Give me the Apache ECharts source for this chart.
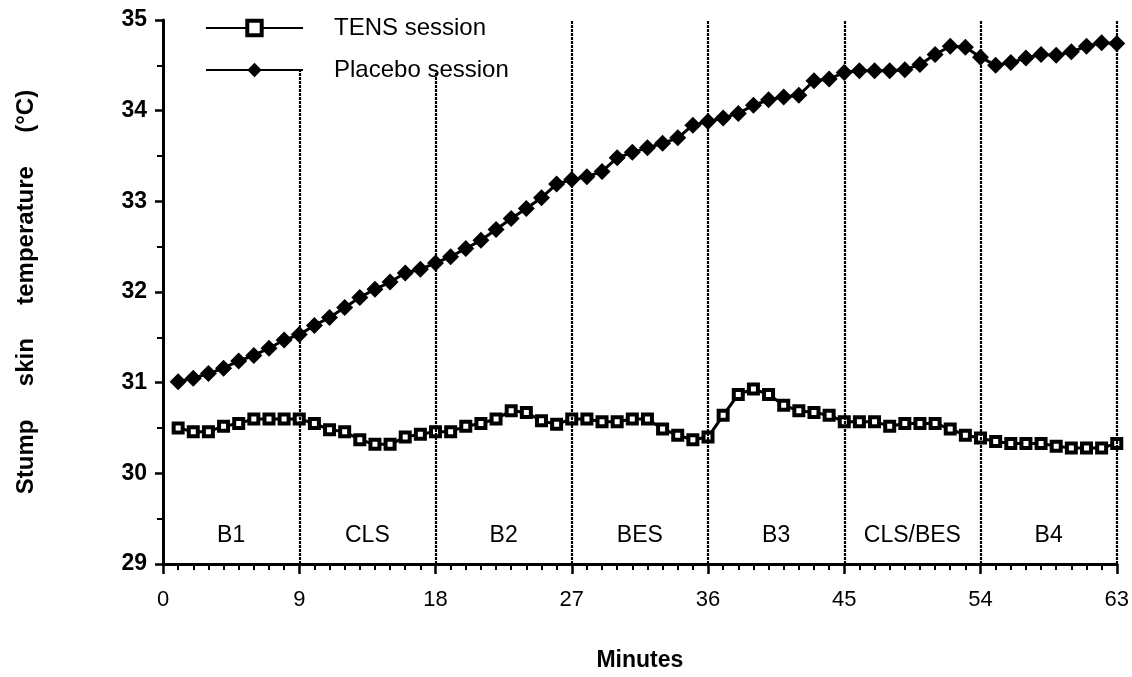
<!DOCTYPE html>
<html><head><meta charset="utf-8">
<script src="https://cdn.jsdelivr.net/npm/echarts@6/dist/echarts.min.js"></script>
<style>html,body{margin:0;padding:0;background:#fff}#c{width:1132px;height:677px}</style>
</head><body><div id="c"></div>
<script>
const minutes = [1,2,3,4,5,6,7,8,9,10,11,12,13,14,15,16,17,18,19,20,21,22,23,24,25,26,27,28,29,30,31,32,33,34,35,36,37,38,39,40,41,42,43,44,45,46,47,48,49,50,51,52,53,54,55,56,57,58,59,60,61,62,63];
const tensSession = [30.50,30.46,30.46,30.52,30.55,30.60,30.60,30.60,30.60,
  30.55,30.48,30.46,30.37,30.32,30.32,30.40,30.43,30.46,
  30.46,30.52,30.55,30.60,30.69,30.67,30.58,30.54,30.60,
  30.60,30.57,30.57,30.60,30.60,30.49,30.42,30.37,30.40,
  30.64,30.87,30.93,30.87,30.75,30.69,30.67,30.64,30.57,
  30.57,30.57,30.52,30.55,30.55,30.55,30.49,30.42,30.39,
  30.35,30.33,30.33,30.33,30.30,30.28,30.28,30.28,30.33];
const placeboSession = [31.01,31.05,31.10,31.16,31.24,31.30,31.38,31.47,31.53,
  31.63,31.72,31.83,31.94,32.03,32.11,32.21,32.25,32.32,
  32.39,32.48,32.57,32.69,32.81,32.92,33.04,33.19,33.24,
  33.27,33.33,33.48,33.54,33.59,33.64,33.70,33.84,33.88,
  33.92,33.97,34.06,34.12,34.15,34.17,34.33,34.35,34.42,
  34.44,34.44,34.44,34.45,34.51,34.62,34.71,34.70,34.59,
  34.50,34.53,34.58,34.62,34.61,34.65,34.71,34.75,34.74];
const phaseBoundaries = [9,18,27,36,45,54,63];
const boundaryTops = [34.45,34.45,35,35,35,35,35];
const phaseNames = ['B1','CLS','B2','BES','B3','CLS/BES','B4'];
const phaseCenters = [4.5,13.5,22.5,31.5,40.5,49.5,58.5];
const phaseLabelLevel = 29.31;
const seriesNames = ['TENS session','Placebo session'];
const xTicks = {min:0, max:63, interval:9};
const yTicks = {min:29, max:35, interval:1};

const FONT = '"Liberation Sans", Arial, Helvetica, sans-serif';
const chart = echarts.init(document.getElementById('c'), null, {renderer:'canvas'});

const pair = (arr) => minutes.map((m,i) => [m, arr[i]]);
const boundaryLines = phaseBoundaries.map((b,i) => [
  {coord:[b, yTicks.min]}, {coord:[b, boundaryTops[i]]}
]);
const phaseMarks = phaseNames.map((n,i) => ({name:n, coord:[phaseCenters[i], phaseLabelLevel]}));

chart.setOption({
  animation:false,
  backgroundColor:'#fff',
  grid:{left:163, right:10, top:20, bottom:103, containLabel:false},
  legend:{
    orient:'vertical', left:200, top:11, itemWidth:97, itemHeight:18, itemGap:18,
    textStyle:{fontFamily:FONT, fontSize:24, color:'#000', padding:[0,0,0,26]},
    data:[
      {name:seriesNames[0], itemStyle:{color:'#fff', borderColor:'#000', borderWidth:4}},
      {name:seriesNames[1]}
    ]
  },
  xAxis:{
    type:'value', min:xTicks.min, max:xTicks.max, interval:xTicks.interval,
    name:'Minutes', nameLocation:'middle', nameGap:85,
    nameTextStyle:{fontFamily:FONT, fontSize:23, fontWeight:'bold', color:'#000'},
    axisLine:{show:true, onZero:false, lineStyle:{color:'#000', width:3}},
    axisTick:{show:true, length:10, lineStyle:{color:'#000', width:2.5}},
    minorTick:{show:true, splitNumber:9, length:6, lineStyle:{color:'#000', width:2}},
    axisLabel:{fontFamily:FONT, fontSize:22, color:'#000', margin:25},
    splitLine:{show:false}
  },
  yAxis:{
    type:'value', min:yTicks.min, max:yTicks.max, interval:yTicks.interval,
    name:'Stump     skin     temperature     (°C)', nameLocation:'middle', nameGap:125,
    nameTextStyle:{fontFamily:FONT, fontSize:24, fontWeight:'bold', color:'#000'},
    axisLine:{show:true, onZero:false, lineStyle:{color:'#000', width:3}},
    axisTick:{show:true, length:8, lineStyle:{color:'#000', width:2.5}},
    minorTick:{show:true, splitNumber:2, length:6, lineStyle:{color:'#000', width:2}},
    axisLabel:{fontFamily:FONT, fontSize:23, fontWeight:'bold', color:'#000', margin:16},
    splitLine:{show:false}
  },
  series:[
    {
      name:seriesNames[0], type:'line', data:pair(tensSession),
      symbol:'rect', symbolSize:9, showAllSymbol:true,
      lineStyle:{color:'#000', width:3},
      itemStyle:{color:'#fff', borderColor:'#000', borderWidth:4},
      z:3,
      markLine:{
        silent:true, symbol:['none','none'], label:{show:false},
        lineStyle:{color:'#000', width:2.2, type:[3,1]},
        data:boundaryLines
      },
      markPoint:{
        silent:true, symbol:'rect', symbolSize:1, itemStyle:{color:'rgba(0,0,0,0)'},
        label:{show:true, formatter:'{b}', position:'inside', fontFamily:FONT, fontSize:23, color:'#000'},
        data:phaseMarks
      }
    },
    {
      name:seriesNames[1], type:'line', data:pair(placeboSession),
      symbol:'diamond', symbolSize:[17,17], showAllSymbol:true,
      lineStyle:{color:'#000', width:3},
      itemStyle:{color:'#000', borderColor:'#000', borderWidth:0},
      z:4
    }
  ]
});
</script></body></html>
